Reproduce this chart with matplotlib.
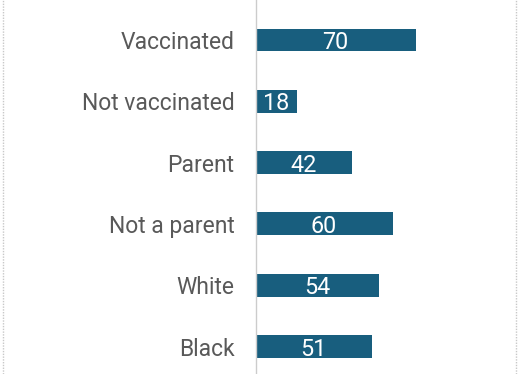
import matplotlib
matplotlib.use("Agg")
import matplotlib.pyplot as plt
from matplotlib.lines import Line2D

categories = ["Vaccinated", "Not vaccinated", "Parent", "Not a parent", "White", "Black"]
values = [70, 18, 42, 60, 54, 51]

plt.rcParams['font.family'] = ['Roboto', 'DejaVu Sans']

W, H = 518, 374
fig = plt.figure(figsize=(W / 100, H / 100), dpi=100)
x0 = 255.5
ax = fig.add_axes([x0 / W, 0, (W - x0) / W, 1])
scale = 160 / 70.0  # px per unit
ax.set_xlim(0, (W - x0) / scale)
spacing = 61.3
ax.set_ylim((H - 40) / spacing, -40 / spacing)

ypos = list(range(len(categories)))
bars = ax.barh(ypos, values, height=0.375, color="#185e7e")
for y, v in zip(ypos, values):
    ax.text(v / 2, y, str(v), ha="center", va="center_baseline", color="white", fontsize=16.8)
    ax.text(-21 / scale, y, categories[y], ha="right", va="center_baseline", color="#595959",
            fontsize=16.5, clip_on=False)

for s in ["top", "right", "bottom"]:
    ax.spines[s].set_visible(False)
ax.spines["left"].set_color("#cccccc")
ax.spines["left"].set_linewidth(1)
ax.set_xticks([])
ax.set_yticks([])

# dotted border on figure edges
for xp in [2.5 / W, 515.5 / W]:
    fig.add_artist(Line2D([xp, xp], [0, 1], transform=fig.transFigure, color="#c8c8c8", lw=1, ls=(0, (1, 1))))

fig.savefig("out.png", dpi=100)
